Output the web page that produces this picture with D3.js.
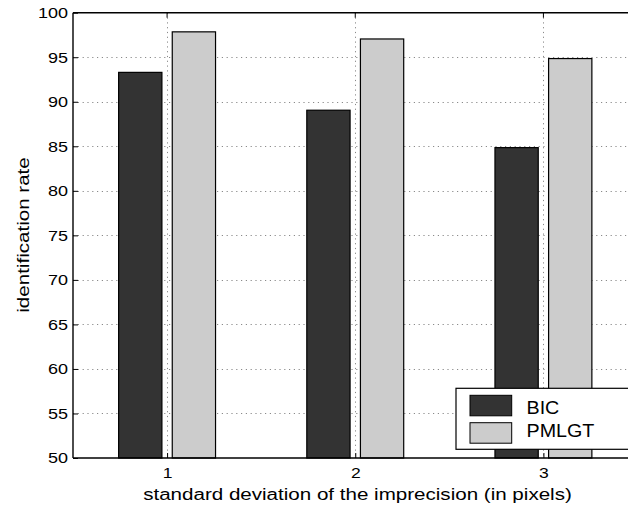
<!DOCTYPE html>
<html>
<head>
<meta charset="utf-8">
<script src="https://cdn.jsdelivr.net/npm/d3@7"></script>
<style>
  body { margin: 0; background: #fff; }
  svg { display: block; font-family: "Liberation Sans", Arial, sans-serif; }
</style>
</head>
<body>
<svg width="628" height="506"></svg>
<script>
var categories = [1, 2, 3];
var seriesNames = ['BIC', 'PMLGT'];
var bicValues = [93.3, 89.05, 84.85];
var pmlgtValues = [97.85, 97.05, 94.85];
var yTicks = [50, 55, 60, 65, 70, 75, 80, 85, 90, 95, 100];
var colors = ['#333333', '#cccccc'];

var svg = d3.select('svg');
var plotLeft = 73, plotRight = 637.5, plotTop = 12.7, plotBottom = 458;

var x = d3.scaleLinear().domain([0.5, 3.5]).range([plotLeft, plotRight]);
var y = d3.scaleLinear().domain([50, 100]).range([plotBottom, plotTop]);

// the original font is a bit wider than Liberation Sans, so stretch text
function widen(sel, k) {
  sel.each(function() {
    var w = this.getComputedTextLength();
    d3.select(this).attr('textLength', w * k).attr('lengthAdjust', 'spacingAndGlyphs');
  });
}

// grid
var grid = svg.append('g')
    .attr('stroke', '#8a8a8a')
    .attr('stroke-width', 1)
    .attr('stroke-dasharray', '1.2,3.6');
grid.selectAll('line.h')
    .data(yTicks.slice(1, -1))
    .enter()
    .append('line')
    .attr('x1', plotLeft).attr('x2', plotRight)
    .attr('y1', function(d) { return Math.round(y(d)) + 0.5; })
    .attr('y2', function(d) { return Math.round(y(d)) + 0.5; });
grid.selectAll('line.v')
    .data(categories)
    .enter()
    .append('line')
    .attr('y1', plotTop).attr('y2', plotBottom)
    .attr('x1', function(d) { return Math.round(x(d)) + 0.5; })
    .attr('x2', function(d) { return Math.round(x(d)) + 0.5; });

// bars
var series = [bicValues, pmlgtValues];
var offsets = [-0.1425, 0.1425];
var barW = 0.23;
series.forEach(function(vals, s) {
  svg.append('g')
     .selectAll('rect')
     .data(vals)
     .enter()
     .append('rect')
     .attr('x', function(d, i) { return x(categories[i] + offsets[s] - barW / 2); })
     .attr('width', function() { return x(0.5 + barW) - x(0.5); })
     .attr('y', function(d) { return y(d); })
     .attr('height', function(d) { return y(50) - y(d); })
     .attr('fill', colors[s])
     .attr('stroke', '#000')
     .attr('stroke-width', 1.2);
});

// frame
var frame = svg.append('g').attr('stroke', '#000').attr('stroke-width', 1.4).attr('fill', 'none');
frame.append('line').attr('x1', plotLeft).attr('x2', plotRight).attr('y1', plotTop).attr('y2', plotTop);
frame.append('line').attr('x1', plotLeft).attr('x2', plotRight).attr('y1', plotBottom).attr('y2', plotBottom);
frame.append('line').attr('x1', plotLeft).attr('x2', plotLeft).attr('y1', plotTop).attr('y2', plotBottom);

// y axis ticks (inside)
var yAxis = d3.axisLeft(y).tickValues(yTicks).tickFormat(d3.format('d'))
    .tickSizeInner(-5).tickSizeOuter(0).tickPadding(10);
var gy = svg.append('g').attr('transform', 'translate(' + plotLeft + ',0)').call(yAxis)
    .attr('font-size', 15.4).attr('font-family', '"Liberation Sans", Arial, sans-serif');
gy.select('.domain').remove();
gy.selectAll('text').attr('fill', '#000').attr('x', -5);
gy.selectAll('line').attr('stroke', '#000');
widen(gy.selectAll('text'), 1.17);

// x axis ticks (inside)
var xAxis = d3.axisBottom(x).tickValues(categories).tickFormat(d3.format('d'))
    .tickSizeInner(-5).tickSizeOuter(0).tickPadding(10);
var gx = svg.append('g').attr('transform', 'translate(0,' + plotBottom + ')').call(xAxis)
    .attr('font-size', 15).attr('font-family', '"Liberation Sans", Arial, sans-serif');
gx.select('.domain').remove();
gx.selectAll('text').attr('fill', '#000').attr('dy', null).attr('y', 20.3);
gx.selectAll('line').attr('stroke', '#000');
widen(gx.selectAll('text'), 1.17);

// top ticks
svg.append('g').selectAll('line')
   .data(categories)
   .enter()
   .append('line')
   .attr('x1', function(d) { return x(d); })
   .attr('x2', function(d) { return x(d); })
   .attr('y1', plotTop).attr('y2', plotTop + 5)
   .attr('stroke', '#000');

// axis titles
var xTitle = svg.append('text')
   .attr('x', 357.5)
   .attr('y', 500)
   .attr('text-anchor', 'middle')
   .attr('font-size', 17.3)
   .text('standard deviation of the imprecision (in pixels)');
widen(xTitle, 1.19);

var yTitle = svg.append('text')
   .attr('transform', 'translate(28.5,235) rotate(-90)')
   .attr('text-anchor', 'middle')
   .attr('font-size', 17.3)
   .text('identification rate');
widen(yTitle, 1.19);

// legend
var legend = svg.append('g');
legend.append('rect')
   .attr('x', 456).attr('y', 388.3)
   .attr('width', 200).attr('height', 61)
   .attr('fill', '#fff').attr('stroke', '#000').attr('stroke-width', 1.2);
seriesNames.forEach(function(name, i) {
  legend.append('rect')
     .attr('x', 470).attr('y', 395.3 + i * 27.4)
     .attr('width', 41.7).attr('height', 20.5)
     .attr('fill', colors[i]).attr('stroke', '#000').attr('stroke-width', 1);
  var t = legend.append('text')
     .attr('x', 526.5).attr('y', 414 + i * 23.4)
     .attr('font-size', 18.6)
     .text(name);
  widen(t, 1.06);
});
</script>
</body>
</html>
